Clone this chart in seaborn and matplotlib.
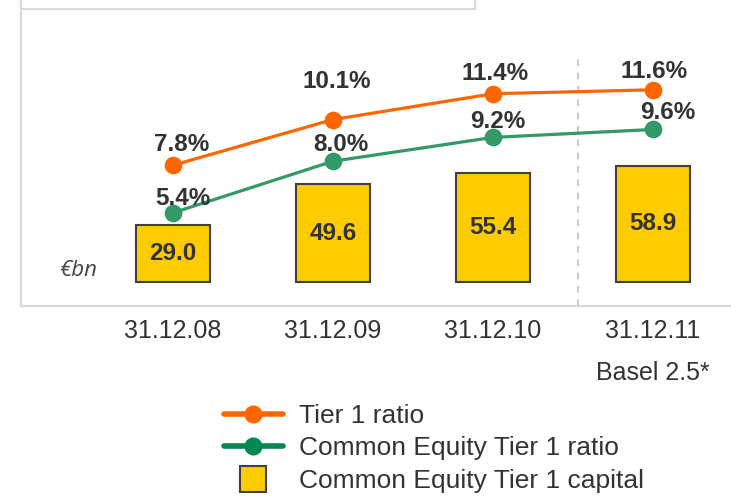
import matplotlib
matplotlib.use("Agg")
import matplotlib.pyplot as plt
import seaborn as sns
import pandas as pd
from matplotlib.lines import Line2D
from matplotlib.patches import Rectangle

# Dados do gráfico
dates = ["31.12.08", "31.12.09", "31.12.10", "31.12.11"]
tick_labels = ["31.12.08", "31.12.09", "31.12.10", "31.12.11\nBasel 2.5*"]
cet1_capital = [29.0, 49.6, 55.4, 58.9]
tier1_ratio = [7.8, 10.1, 11.4, 11.6]
cet1_ratio = [5.4, 8.0, 9.2, 9.6]

# Deslocamento dos rótulos (pixels)
tier1_offsets = [(9, 21), (4, 38), (2, 20), (1, 18)]
cet1_offsets = [(10, 14), (8, 17), (5, 16), (15, 17)]

orange = "#FF6600"
green = "#339966"
yellow = "#FFCC00"
text_color = "#333333"
frame_color = "#d9d9d9"

df = pd.DataFrame({"Date": dates, "Capital": cet1_capital,
                   "Tier1": tier1_ratio, "CET1": cet1_ratio})

sns.set_style("white")
plt.rcParams["font.family"] = ["Liberation Sans", "DejaVu Sans"]

W, H = 731, 497
fig = plt.figure(figsize=(W / 100, H / 100), dpi=100)
ax = fig.add_axes([21 / W, (H - 306) / H, (W - 21) / W, 297 / H])

sns.barplot(data=df, x="Date", y="Capital", color=yellow, edgecolor="#404040",
            linewidth=1.5, width=0.4625, saturation=1, ax=ax)
for cont in ax.containers:
    ax.bar_label(cont, fmt="%.1f", label_type="center", fontsize=17.5,
                 fontweight="bold", color=text_color)

ax2 = ax.twinx()
sns.pointplot(data=df, x="Date", y="Tier1", color=orange, markers="o",
              markersize=11, linewidth=2.3, ax=ax2)
sns.pointplot(data=df, x="Date", y="CET1", color=green, markers="o",
              markersize=11, linewidth=2.3, ax=ax2)

for i, v in enumerate(tier1_ratio):
    ax2.annotate(f"{v:.1f}%", (i, v), xytext=tier1_offsets[i], textcoords="offset pixels",
                 ha="center", va="center", fontsize=17.5, fontweight="bold", color=text_color)
for i, v in enumerate(cet1_ratio):
    ax2.annotate(f"{v:.1f}%", (i, v), xytext=cet1_offsets[i], textcoords="offset pixels",
                 ha="center", va="center", fontsize=17.5, fontweight="bold", color=text_color)

ax.set_ylim(-12.2, 138.6)
ax2.set_ylim(0.705, 15.67)
ax.set_xlim(-0.95, 3.4875)
ax2.set_xlim(-0.95, 3.4875)

# linha tracejada separando Basel 2.5
ax.axvline(2.53, ymin=0.0, ymax=0.83, color="#bfbfbf", linestyle=(0, (4, 4)), linewidth=1.2)

ax.set_xlabel("")
ax.set_ylabel("")
ax2.set_ylabel("")
ax.set_yticks([])
ax2.set_yticks([])
ax.set_xticks(range(len(dates)))
ax.set_xticklabels(tick_labels, fontsize=18, color=text_color, linespacing=1.95)
ax.tick_params(axis="x", length=0, pad=9)

for a in (ax, ax2):
    for side in ("top", "right"):
        a.spines[side].set_visible(False)
    for side in ("left", "bottom"):
        a.spines[side].set_color(frame_color)
        a.spines[side].set_linewidth(1.5)

ax.text(0.08, 0.12, "€bn", transform=ax.transAxes, ha="center", va="center",
        fontsize=16, style="italic", color="#444444", family=["Open Sans", "DejaVu Sans"])

# caixa superior cortada
fig.add_artist(Rectangle((21 / W, (H - 9) / H), (475 - 21) / W, 0.05,
                         transform=fig.transFigure, fill=False,
                         edgecolor=frame_color, linewidth=1.5, clip_on=False))

handles = [
    Line2D([], [], color=orange, lw=4, marker="o", markersize=12),
    Line2D([], [], color="#008850", lw=4, marker="o", markersize=12),
    Line2D([], [], color="none", marker="s", markersize=19,
           markerfacecolor=yellow, markeredgecolor="#404040", markeredgewidth=1.5),
]
labels = ["Tier 1 ratio", "Common Equity Tier 1 ratio", "Common Equity Tier 1 capital"]
fig.legend(handles, labels, loc="upper left", bbox_to_anchor=(200 / W, 1 - 380 / H),
           frameon=False, fontsize=19, handlelength=2.25, handletextpad=0.6,
           labelspacing=0.33, labelcolor=text_color)

plt.savefig("out.png", dpi=100)
plt.close()
